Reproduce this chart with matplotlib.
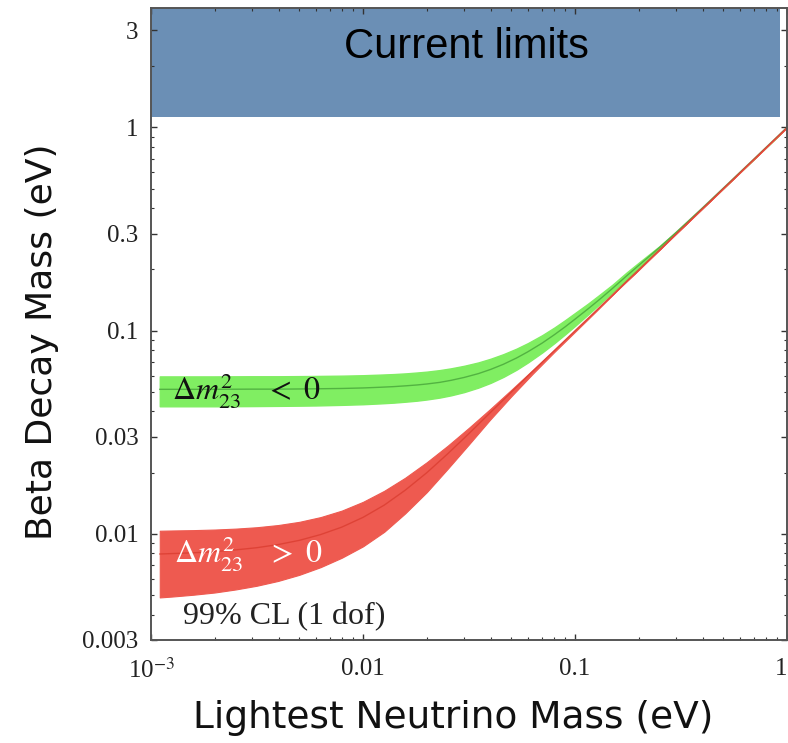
import matplotlib
matplotlib.use("Agg")
import matplotlib.pyplot as plt
from matplotlib.ticker import FixedLocator, FixedFormatter, LogLocator, NullFormatter

plt.rcParams["mathtext.fontset"] = "stix"

# Inverted ordering band (green): lightest mass vs. beta-decay mass
ih_mlight = [0.0011, 0.0015, 0.002, 0.003, 0.004, 0.005, 0.006, 0.008, 0.010, 0.012,
             0.014, 0.016, 0.018, 0.020, 0.023, 0.026, 0.030, 0.035, 0.040, 0.046,
             0.053, 0.060, 0.070, 0.080, 0.090, 0.10, 0.115, 0.13, 0.15, 0.175,
             0.20, 0.25, 0.30, 0.40, 0.50, 0.70, 1.0]
ih_upper = [0.0595, 0.0595, 0.0595, 0.0596, 0.0596, 0.0597, 0.0598, 0.0600, 0.0603, 0.0607,
            0.0611, 0.0616, 0.0622, 0.0628, 0.0639, 0.0652, 0.0671, 0.0697, 0.0727, 0.0766,
            0.0815, 0.0868, 0.0949, 0.1036, 0.1127, 0.1220, 0.1355, 0.1495, 0.168, 0.193,
            0.216, 0.260, 0.307, 0.404, 0.503, 0.701, 1.0]
ih_lower = [0.0424, 0.0424, 0.0424, 0.0425, 0.0426, 0.0427, 0.0428, 0.0431, 0.0434, 0.0438,
            0.0442, 0.0447, 0.0452, 0.0458, 0.0468, 0.0480, 0.0498, 0.0524, 0.0553, 0.0592,
            0.0642, 0.0697, 0.0780, 0.0868, 0.0960, 0.1054, 0.1198, 0.1344, 0.1540, 0.1785,
            0.2030, 0.2525, 0.3020, 0.4015, 0.5010, 0.7005, 1.0]
ih_center = [0.0514, 0.0514, 0.0514, 0.0515, 0.0515, 0.0516, 0.0517, 0.0519, 0.0522, 0.0526,
             0.0530, 0.0535, 0.0540, 0.0546, 0.0556, 0.0569, 0.0588, 0.0614, 0.0644, 0.0683,
             0.0733, 0.0787, 0.0868, 0.0955, 0.1045, 0.1138, 0.1277, 0.1418, 0.161, 0.1857,
             0.2095, 0.2562, 0.3045, 0.4027, 0.5020, 0.7007, 1.0]

# Normal ordering band (red)
nh_mlight = [0.0011, 0.00126, 0.00158, 0.0020, 0.00251, 0.00316, 0.00398, 0.00501, 0.00631,
             0.00794, 0.0100, 0.0126, 0.0158, 0.0200, 0.0251, 0.0316, 0.0398, 0.0501,
             0.0631, 0.0794, 0.100, 0.126, 0.158, 0.200, 0.316, 0.501, 1.0]
nh_upper = [0.01035, 0.01038, 0.01042, 0.01049, 0.0106, 0.01077, 0.01104, 0.01145, 0.01208,
            0.0130, 0.01436, 0.01628, 0.01886, 0.0225, 0.02713, 0.03324, 0.04111, 0.05115,
            0.06394, 0.08006, 0.10053, 0.12642, 0.15833, 0.20026, 0.31617, 0.50111, 1.0]
nh_lower = [0.00486, 0.00491, 0.00501, 0.00514, 0.00532, 0.00555, 0.00586, 0.00628, 0.00685,
            0.00762, 0.00867, 0.01023, 0.01259, 0.01603, 0.02089, 0.02754, 0.03648, 0.04753,
            0.06124, 0.07798, 0.09863, 0.12474, 0.15776, 0.19907, 0.3158, 0.5008, 1.0]
nh_center = [0.00795, 0.00799, 0.00806, 0.00817, 0.00833, 0.00854, 0.00885, 0.00928, 0.00991,
             0.01078, 0.01204, 0.01384, 0.01637, 0.01998, 0.02476, 0.03112, 0.03942, 0.04984,
             0.06298, 0.07929, 0.09986, 0.1256, 0.1580, 0.2000, 0.3160, 0.5010, 1.0]

# Region already excluded by direct measurements
limit_x = [1e-3, 0.93]
limit_y = [1.12, 3.87]

x_ticks = [1e-3, 0.01, 0.1, 1.0]
x_tick_labels = ["10$^{-3}$", "0.01", "0.1", "1"]
y_ticks = [0.003, 0.01, 0.03, 0.1, 0.3, 1.0, 3.0]
y_tick_labels = ["0.003", "0.01", "0.03", "0.1", "0.3", "1", "3"]

W, H = 788, 743
fig = plt.figure(figsize=(W / 100, H / 100), dpi=100)
ax = fig.add_axes([151 / W, (H - 640) / H, (787 - 151) / W, (640 - 8) / H])
ax.set_xscale("log")
ax.set_yscale("log")
ax.set_xlim(1e-3, 1.0)
ax.set_ylim(0.003, 3.87)

ax.fill_between(limit_x, limit_y[0], limit_y[1], color="#6b8fb5", lw=0, zorder=1)
ax.text(0.0306, 2.5, "Current limits", ha="center", va="center",
        fontsize=30, family="Liberation Sans", color="black", zorder=5)

green = "#80ee62"
red = "#ee5a50"
ax.fill_between(ih_mlight, ih_lower, ih_upper, facecolor=green, edgecolor=green,
                lw=1.0, zorder=2)
ax.plot(ih_mlight, ih_center, color="#3f9a34", lw=1.0, alpha=0.7, zorder=3)
ax.fill_between(nh_mlight, nh_lower, nh_upper, facecolor=red, edgecolor=red,
                lw=0.8, zorder=4)
ax.plot(nh_mlight, nh_center, color="#d8392c", lw=1.0, alpha=0.7, zorder=4)

ax.text(1.256e-3, 0.0506, r"$\Delta m^2_{23}\ \ \ <\ 0$", fontsize=23,
        color="#111111", va="center", ha="left", zorder=6)
ax.text(1.29e-3, 0.0080, r"$\Delta m^2_{23}\ \ \ >\ 0$", fontsize=23,
        color="white", va="center", ha="left", zorder=6)
ax.text(1.42e-3, 0.0039, "99% CL (1 dof)", fontsize=23,
        family="Liberation Serif", color="#222222", va="center", ha="left", zorder=6)

for s in ax.spines.values():
    s.set_color("#555555")
    s.set_linewidth(1.4)
    s.set_zorder(7)

ax.xaxis.set_major_locator(FixedLocator(x_ticks))
ax.xaxis.set_major_formatter(FixedFormatter(x_tick_labels))
ax.yaxis.set_major_locator(FixedLocator(y_ticks))
ax.yaxis.set_major_formatter(FixedFormatter(y_tick_labels))
ax.xaxis.set_minor_locator(LogLocator(base=10, subs=range(2, 10)))
ax.yaxis.set_minor_locator(LogLocator(base=10, subs=range(2, 10)))
ax.xaxis.set_minor_formatter(NullFormatter())
ax.yaxis.set_minor_formatter(NullFormatter())
ax.tick_params(which="both", direction="in", top=True, right=True, color="#333333")
ax.tick_params(which="major", length=4, width=1.0, labelsize=18, pad=9)
ax.tick_params(axis="x", which="major", pad=13)
ax.tick_params(which="minor", length=2.5, width=0.8)
for lab in ax.get_xticklabels() + ax.get_yticklabels():
    lab.set_family("Liberation Serif")
    lab.set_color("#222222")
ax.get_xticklabels()[-1].set_horizontalalignment("right")

ax.set_xlabel("Lightest Neutrino Mass (eV)", fontsize=27, family="DejaVu Sans",
              color="#111111")
ax.set_ylabel("Beta Decay Mass (eV)", fontsize=26, family="DejaVu Sans",
              color="#111111")
ax.xaxis.set_label_coords(0.475, -0.095)
ax.yaxis.set_label_coords(-0.145, 0.4715)

fig.savefig("out.png", dpi=100, facecolor="white")
